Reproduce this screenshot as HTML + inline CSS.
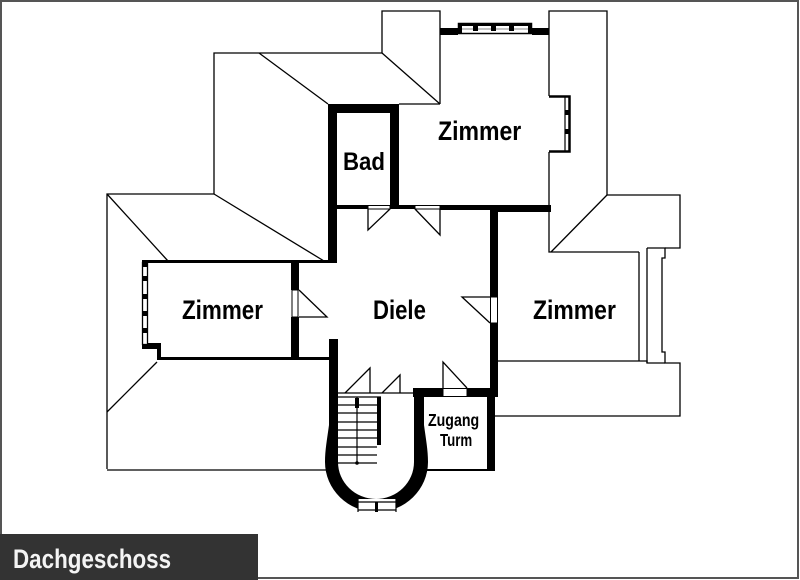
<!DOCTYPE html>
<html><head><meta charset="utf-8"><style>
html,body{margin:0;padding:0;background:#fff;}
svg{display:block;}
text{font-family:"Liberation Sans",sans-serif;font-weight:bold;}
</style></head><body>
<svg width="800" height="580" viewBox="0 0 800 580" xmlns="http://www.w3.org/2000/svg">
<rect x="0" y="0" width="800" height="580" fill="#fff"/>
<rect x="1" y="1" width="797" height="577" fill="none" stroke="#555" stroke-width="2"/>

<!-- thin roof lines -->
<g fill="none" stroke="#000" stroke-width="1.3">
<path d="M214,194 V53 H382 V11 H440 V104"/>
<path d="M382,53 L440,104"/>
<path d="M259,53 L328,104"/>
<path d="M399,104 H440"/>
<path d="M107,469 V194 H214"/>
<path d="M107,194 L168,261"/>
<path d="M214,194 L324,261"/>
<path d="M157,362 L107,412"/>
<path d="M107,470 H326"/>
<path d="M549,96 V11 H607 V195 H680 V248 H665"/>
<path d="M607,195 L551,252"/>
<path d="M549,152 V252 H639"/>
<path d="M639,252 V361"/>
<path d="M647,248 V363"/>
<path d="M647,248 H665 V258 H662 V352 H665 V363 H680 V416 H495"/>
<path d="M498,361 H647 V363 H665"/>
<path d="M423,470 H492" stroke-width="2"/>
<path d="M337,393 H413"/>
</g>

<!-- top zimmer walls & window -->
<rect x="440" y="28" width="18" height="7" fill="#000"/>
<rect x="532" y="28" width="17" height="7" fill="#000"/>
<rect x="458.5" y="23.5" width="73" height="10" fill="#fff" stroke="#000" stroke-width="1.5"/>
<rect x="458" y="23" width="74" height="3" fill="#000"/>
<line x1="459" y1="29" x2="531" y2="29" stroke="#888" stroke-width="1"/>
<rect x="458" y="23" width="4" height="11" fill="#000"/>
<rect x="473" y="23" width="5" height="8" fill="#000"/>
<rect x="491" y="23" width="5" height="8" fill="#000"/>
<rect x="509" y="23" width="5" height="8" fill="#000"/>
<rect x="528" y="23" width="4" height="11" fill="#000"/>
<!-- right window of top zimmer -->
<path d="M549,96.5 H569.5 V151.5 H549" fill="none" stroke="#000" stroke-width="2.5"/>
<line x1="565" y1="97" x2="565" y2="151" stroke="#000" stroke-width="1.2"/>
<rect x="565" y="110" width="5" height="5" fill="#000"/>
<rect x="565" y="129" width="5" height="5" fill="#000"/>

<!-- thick walls -->
<g fill="#000">
<rect x="328" y="104" width="9" height="158"/>
<rect x="328" y="104" width="71" height="9"/>
<rect x="390" y="104" width="9" height="105"/>
<rect x="337" y="205" width="31" height="4"/>
<rect x="390" y="205" width="25" height="4"/>
<rect x="440" y="205" width="50" height="5"/>
<rect x="490" y="205" width="61" height="7"/>
<rect x="490" y="205" width="8" height="92"/>
<rect x="490" y="323" width="8" height="74"/>
<rect x="142" y="260" width="195" height="3"/>
<rect x="291" y="262" width="8" height="28"/>
<rect x="291" y="317" width="8" height="43"/>
<rect x="157" y="357" width="173" height="3"/>
<rect x="142" y="343" width="19" height="6"/>
<rect x="157" y="343" width="4" height="17"/>
<rect x="329" y="339" width="9" height="90"/>
<rect x="413" y="388" width="30" height="9"/>
<rect x="467" y="388" width="31" height="9"/>
<rect x="414" y="388" width="10" height="41"/>
<rect x="487" y="397" width="8" height="74"/>
<rect x="377" y="397" width="4" height="48"/>
<path d="M329,425 C327,440 325,450 325,462 A51.5,50 0 0 0 428,462 C428,450 426,440 424,425 L414,425 L414,462 A38,37 0 0 1 338,462 L338,425 Z"/>
</g>

<!-- left zimmer window -->
<rect x="142.5" y="262.5" width="5" height="82" fill="#fff" stroke="#000" stroke-width="1.3"/>
<rect x="142" y="261" width="6" height="6" fill="#000"/>
<rect x="142" y="276" width="6" height="5" fill="#000"/>
<rect x="142" y="294" width="6" height="5" fill="#000"/>
<rect x="142" y="311" width="6" height="5" fill="#000"/>
<rect x="142" y="328" width="6" height="5" fill="#000"/>

<!-- door openings / sills -->
<g fill="#fff" stroke="#000" stroke-width="1">
<rect x="368" y="205.5" width="22" height="3.5"/>
<rect x="415" y="205.5" width="25" height="3.5"/>
<rect x="292" y="290" width="6" height="27"/>
<rect x="490.5" y="297" width="7" height="26"/>
<rect x="443" y="388.5" width="24" height="8"/>
</g>

<!-- door leaves -->
<g fill="none" stroke="#000" stroke-width="1.3">
<path d="M368,209 V230 L390,209"/>
<path d="M440,209 V235 L415,209"/>
<path d="M299,290 L327,317 H299"/>
<path d="M490,297 H462 L490,323"/>
<path d="M345,393 L370,368 V393"/>
<path d="M382,393 L400,375 V393"/>
<path d="M443,388 V362 L467,388"/>
</g>

<!-- stairs -->
<g stroke="#000" stroke-width="1.2">
<line x1="337" y1="397" x2="381" y2="397"/>
<line x1="338" y1="405" x2="377" y2="405"/>
<line x1="338" y1="413" x2="377" y2="413"/>
<line x1="338" y1="422" x2="377" y2="422"/>
<line x1="338" y1="430" x2="377" y2="430"/>
<line x1="338" y1="438" x2="377" y2="438"/>
<line x1="338" y1="447" x2="377" y2="447"/>
<line x1="338" y1="455" x2="377" y2="455"/>
<line x1="338" y1="463" x2="377" y2="463"/>
<line x1="357" y1="397" x2="357" y2="463"/>
</g>
<rect x="355" y="398" width="4" height="10" fill="#000"/>
<circle cx="357" cy="463" r="1.8" fill="#000"/>

<!-- tower window -->
<rect x="358" y="499" width="38" height="15" fill="#fff"/>
<line x1="358" y1="502" x2="396" y2="502" stroke="#000" stroke-width="1.2"/>
<line x1="358" y1="510" x2="396" y2="510" stroke="#000" stroke-width="1.2"/>
<rect x="375" y="502" width="3" height="10" fill="#000"/>
<line x1="358" y1="499" x2="358" y2="512" stroke="#000" stroke-width="1.2"/>
<line x1="396" y1="499" x2="396" y2="512" stroke="#000" stroke-width="1.2"/>

<!-- labels -->
<g fill="#000">
<text transform="translate(438,140) scale(0.87,1)" font-size="26.5">Zimmer</text>
<text transform="translate(343,170) scale(0.89,1)" font-size="25">Bad</text>
<text transform="translate(373,319) scale(0.82,1)" font-size="27">Diele</text>
<text transform="translate(182,319) scale(0.83,1)" font-size="27">Zimmer</text>
<text transform="translate(533,319) scale(0.85,1)" font-size="27">Zimmer</text>
<text transform="translate(428,426) scale(0.81,1)" font-size="17.5">Zugang</text>
<text transform="translate(440,446) scale(0.76,1)" font-size="17.5">Turm</text>
</g>

<!-- bottom label bar -->
<rect x="0" y="534" width="258" height="46" fill="#333"/>
<text transform="translate(13,568) scale(0.83,1)" font-size="27" fill="#f4f4f4">Dachgeschoss</text>
</svg>
</body></html>
